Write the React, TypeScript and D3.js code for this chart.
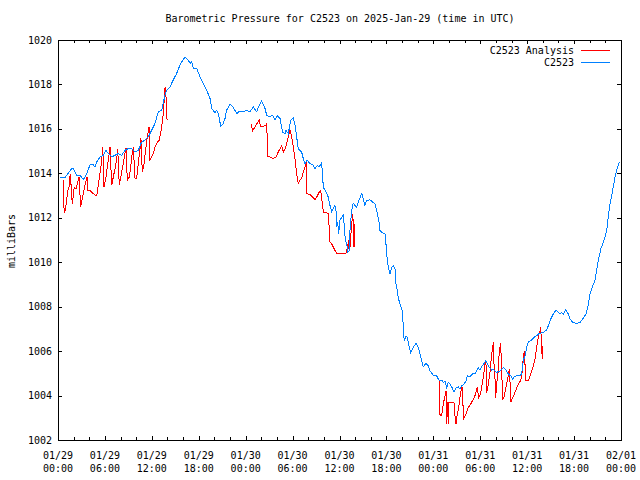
import React from "react";
import * as d3 from "d3";

const TITLE = "Barometric Pressure for C2523 on 2025-Jan-29 (time in UTC)";
const Y_LABEL = "milliBars";
const SERIES_NAMES = ["C2523 Analysis", "C2523"];
const SERIES_COLORS = ["#ff0000", "#0080ff"];
const START_UTC = Date.UTC(2025, 0, 29, 0, 0);
const SPAN_HOURS = 72;
const Y_DOMAIN = [1002, 1020];
const Y_TICKS = [1002, 1004, 1006, 1008, 1010, 1012, 1014, 1016, 1018, 1020];

// C2523 observations: hours after 2025-01-29 00:00 UTC, pressure (mb)
const blueHours = [0.26,0.90,1.75,1.96,2.39,2.81,3.24,3.45,3.67,4.09,4.51,4.73,4.95,5.37,5.79,6.14,6.43,6.87,7.29,7.71,8.15,8.57,8.99,9.42,9.85,10.27,10.70,11.13,11.55,11.98,12.40,12.83,13.26,13.68,13.90,14.32,14.74,15.18,15.60,16.02,16.28,16.66,16.88,17.10,17.30,17.74,18.16,18.58,19.02,19.44,19.66,20.08,20.29,20.50,20.81,21.14,21.36,21.57,22.00,22.42,22.85,23.27,23.70,24.13,24.55,24.97,25.41,25.74,26.05,26.47,26.69,27.11,27.46,27.75,28.04,28.39,28.73,29.03,29.16,29.45,29.76,30.09,30.31,30.52,30.73,31.16,31.37,31.59,31.88,32.23,32.65,32.86,33.16,33.41,33.72,33.93,34.27,34.57,34.78,35.00,35.21,35.42,35.55,35.64,35.77,35.90,36.06,36.28,36.48,36.61,36.74,36.92,37.05,37.25,37.34,37.56,37.76,37.98,38.20,38.40,38.84,39.04,39.26,39.48,39.90,40.24,40.54,40.76,41.05,41.18,41.39,41.82,41.94,42.11,42.29,42.46,42.67,42.88,43.10,43.22,43.39,43.52,43.82,44.08,44.16,44.28,44.50,44.67,44.92,45.10,45.44,45.78,46.07,46.29,46.51,46.71,47.06,47.35,47.57,47.99,48.43,48.76,49.07,49.27,49.49,49.71,49.91,50.13,50.35,50.64,50.90,51.19,51.41,51.62,51.92,52.17,52.34,52.69,53.03,53.32,53.54,53.75,53.96,54.18,54.48,54.73,55.03,55.24,55.46,55.67,56.10,56.52,56.95,57.29,57.59,57.89,58.15,58.31,58.66,59.08,59.30,59.50,59.72,59.94,60.14,60.58,60.87,61.22,61.55,62.06,62.49,62.70,62.92,63.34,63.68,63.98,64.19,64.41,64.62,64.92,65.26,65.47,65.82,66.33,66.75,67.18,67.52,67.81,68.03,68.38,68.67,69.05,69.44,69.82,70.17,70.37,70.59,70.81,71.01,71.23,71.44,71.78];
const bluePressure = [1013.82,1013.82,1014.21,1014.21,1013.91,1013.91,1013.73,1013.83,1013.99,1014.38,1014.38,1014.29,1014.51,1014.74,1014.81,1015.04,1014.89,1014.74,1014.81,1014.89,1014.81,1015.04,1015.11,1015.11,1014.96,1015.04,1015.41,1015.49,1015.64,1015.94,1016.24,1016.77,1016.84,1017.52,1017.74,1017.89,1018.20,1018.50,1018.87,1019.13,1019.22,1019.10,1018.95,1019.02,1018.72,1018.72,1018.34,1018.05,1017.74,1017.37,1016.92,1016.72,1016.84,1016.69,1016.12,1016.24,1016.47,1016.84,1017.11,1016.96,1016.69,1016.81,1016.77,1016.84,1016.77,1016.99,1016.77,1017.07,1017.25,1016.92,1016.62,1016.54,1016.62,1016.39,1016.60,1016.47,1015.86,1015.79,1015.94,1015.79,1016.39,1016.51,1016.17,1015.64,1015.11,1014.96,1014.66,1014.44,1014.59,1014.44,1014.36,1014.21,1014.36,1014.29,1014.47,1013.38,1013.16,1012.93,1012.56,1012.26,1012.41,1012.56,1012.33,1011.58,1011.80,1011.28,1011.88,1012.03,1012.11,1011.66,1010.98,1010.83,1010.45,1010.53,1011.43,1012.33,1012.66,1012.56,1012.48,1012.71,1013.09,1012.86,1012.56,1012.78,1012.81,1012.71,1012.63,1012.33,1011.80,1011.43,1011.35,1011.28,1010.83,1010.08,1009.70,1009.48,1009.78,1009.85,1009.70,1009.03,1008.72,1008.38,1008.05,1007.74,1006.92,1006.47,1006.69,1006.62,1006.17,1005.94,1006.17,1006.35,1006.17,1005.87,1005.57,1005.30,1005.44,1005.34,1005.11,1004.92,1004.89,1004.66,1004.69,1004.59,1004.66,1004.36,1004.59,1004.51,1004.39,1004.17,1004.33,1004.39,1004.29,1004.44,1004.51,1004.66,1004.89,1004.84,1004.99,1004.97,1005.11,1005.24,1005.15,1005.30,1005.44,1005.57,1005.34,1005.24,1005.15,1005.19,1005.04,1005.11,1005.26,1005.15,1004.97,1004.89,1004.74,1004.84,1004.89,1004.89,1004.97,1005.57,1005.79,1006.17,1006.42,1006.50,1006.62,1006.69,1006.80,1006.84,1006.95,1007.14,1007.37,1007.67,1007.85,1007.74,1007.67,1007.74,1007.67,1007.85,1007.67,1007.45,1007.29,1007.25,1007.29,1007.49,1007.67,1008.05,1008.57,1008.95,1009.17,1009.99,1010.62,1010.98,1011.43,1012.03,1012.63,1013.01,1013.38,1013.83,1014.14,1014.51];

// C2523 Analysis: hours after start, pressure (mb); null marks a gap
const redHours = [0.68,0.68,0.81,0.93,1.11,1.24,1.41,1.57,1.83,2.08,2.30,2.52,2.69,2.90,3.11,3.32,3.54,3.71,3.80,4.09,4.51,4.95,5.15,5.37,5.59,5.72,5.88,6.14,6.30,6.56,6.65,6.87,7.07,7.29,7.51,7.63,7.84,8.02,8.27,8.48,8.70,8.86,9.12,9.30,9.42,9.63,9.85,10.06,10.27,10.49,10.61,10.78,11.00,11.21,11.42,11.64,11.76,11.98,12.19,12.40,12.70,12.95,13.26,13.47,13.68,13.77,13.90,14.03,
  null,
  24.68,24.90,25.19,25.49,25.74,25.92,26.25,26.60,26.69,26.82,27.11,27.53,27.88,28.17,28.39,28.61,28.81,29.03,29.25,29.45,29.67,29.88,30.09,30.31,30.52,30.73,30.95,31.16,31.37,31.59,31.80,31.80,32.23,32.65,32.86,33.08,33.41,33.59,33.76,33.93,34.14,34.57,34.69,34.78,35.00,35.21,35.42,35.72,36.28,36.79,36.92,37.05,37.12,37.25,37.34,37.56,37.69,37.76,37.85,37.89,37.94,
  null,
  48.76,48.76,49.07,49.27,49.49,49.62,49.71,49.83,49.91,50.00,50.35,50.64,50.77,50.90,51.06,51.24,51.41,51.62,51.75,51.83,52.17,52.47,52.77,53.11,53.32,53.62,53.80,53.96,54.18,54.39,54.60,54.73,54.82,55.03,55.24,55.46,55.59,55.67,55.75,55.88,55.97,56.10,56.31,56.43,56.61,56.74,56.87,57.03,57.29,57.51,57.71,57.80,57.93,58.15,58.35,58.66,58.86,59.08,59.30,59.50,59.63,59.72,59.85,60.14,60.36,60.58,60.78,61.00,61.22,61.42,61.64,61.73,61.85,61.93,61.93];
const redPressure = [1013.69,1013.01,1012.21,1012.33,1012.78,1013.23,1013.38,1013.99,1012.63,1013.38,1013.31,1013.61,1013.83,1012.48,1012.86,1013.23,1013.61,1013.83,1013.23,1013.23,1013.09,1012.98,1013.46,1013.99,1014.59,1015.19,1013.38,1013.83,1014.29,1014.89,1015.19,1013.46,1013.83,1014.21,1014.66,1015.11,1013.46,1013.83,1014.29,1014.74,1015.16,1013.69,1013.83,1014.29,1014.74,1015.19,1013.76,1013.76,1014.44,1015.11,1015.57,1014.06,1014.44,1015.04,1015.64,1016.09,1014.62,1014.74,1014.89,1015.19,1015.41,1015.49,1016.09,1016.69,1017.82,1017.89,1016.47,1016.42,
  null,
  1016.24,1015.91,1016.09,1016.27,1016.39,1016.09,1016.12,1016.17,1016.27,1014.77,1014.74,1014.66,1014.74,1014.96,1015.11,1015.26,1014.96,1015.11,1015.34,1015.64,1015.94,1015.64,1015.19,1014.66,1013.99,1013.54,1013.69,1013.76,1014.06,1014.29,1014.56,1013.09,1013.05,1012.90,1012.81,1012.93,1013.16,1013.23,1012.78,1012.26,1012.26,1012.18,1011.51,1010.90,1010.83,1010.68,1010.53,1010.38,1010.38,1010.41,1010.45,1010.83,1010.60,1011.13,1010.68,1011.73,1012.18,1011.73,1010.68,1011.73,1010.68,
  null,
  1004.69,1003.16,1003.09,1003.61,1003.99,1004.21,1002.74,1003.69,1002.71,1003.69,1003.69,1003.69,1003.09,1002.74,1003.16,1003.46,1003.91,1004.36,1004.36,1002.94,1003.16,1003.46,1003.61,1003.84,1003.99,1004.36,1003.91,1003.99,1004.36,1004.81,1005.42,1005.49,1004.10,1004.51,1005.04,1005.87,1006.17,1006.39,1005.49,1004.81,1003.91,1004.51,1005.11,1006.00,1006.36,1005.11,1003.84,1003.91,1004.36,1004.74,1005.19,1004.66,1003.72,1003.91,1004.06,1004.33,1004.51,1004.63,1004.81,1005.71,1006.00,1005.42,1004.66,1004.66,1004.89,1005.11,1005.30,1005.64,1006.17,1006.62,1006.92,1007.07,1006.24,1005.64,1006.24];

const W = 640;
const H = 480;
const M = { left: 58, right: 621, top: 40, bottom: 440 };
const FONT = "'DejaVu Sans Mono', monospace";

type Pt = { t: Date; v: number } | null;

function toPoints(hours: (number | null)[], vals: (number | null)[]): Pt[] {
  return hours.map((h, i) =>
    h == null || vals[i] == null ? null : { t: new Date(START_UTC + h * 3600000), v: vals[i] as number }
  );
}

export default function App() {
  const x = d3
    .scaleUtc()
    .domain([new Date(START_UTC), new Date(START_UTC + SPAN_HOURS * 3600000)])
    .range([M.left, M.right]);
  const y = d3.scaleLinear().domain(Y_DOMAIN).range([M.bottom, M.top]);

  const line = d3
    .line<Pt>()
    .defined((d) => d != null)
    .x((d) => x((d as any).t))
    .y((d) => y((d as any).v));

  const blue = toPoints(blueHours, bluePressure);
  const red = toPoints(redHours, redPressure);

  const majorX = x.ticks(d3.utcHour.every(6) as any);
  const minorX = x.ticks(d3.utcHour.every(2) as any).filter((d) => d.getUTCHours() % 6 !== 0);
  const fmtDate = d3.utcFormat("%m/%d");
  const fmtTime = d3.utcFormat("%H:%M");

  const major = 4;
  const minor = 3;

  return (
    <svg width={W} height={H} style={{ display: "block", position: "absolute", left: 0, top: 0 }} fontFamily={FONT} fontSize={10}>
      <rect width={W} height={H} fill="#fff" />
      <text x={340} y={22} textAnchor="middle" fill="#000">{TITLE}</text>
      <text transform={`translate(15,241) rotate(-90)`} textAnchor="middle" fill="#000">{Y_LABEL}</text>

      <g shapeRendering="crispEdges" stroke="#000" strokeWidth={1}>
        {Y_TICKS.map((v) => (
          <g key={v}>
            <line x1={M.left} x2={M.left + major} y1={Math.round(y(v)) + 0.5} y2={Math.round(y(v)) + 0.5} />
            <line x1={M.right} x2={M.right - major} y1={Math.round(y(v)) + 0.5} y2={Math.round(y(v)) + 0.5} />
          </g>
        ))}
        {majorX.map((d, i) => (
          <g key={"M" + i}>
            <line x1={Math.round(x(d)) + 0.5} x2={Math.round(x(d)) + 0.5} y1={M.bottom} y2={M.bottom - major} />
            <line x1={Math.round(x(d)) + 0.5} x2={Math.round(x(d)) + 0.5} y1={M.top} y2={M.top + major} />
          </g>
        ))}
        {minorX.map((d, i) => (
          <g key={"m" + i}>
            <line x1={Math.round(x(d)) + 0.5} x2={Math.round(x(d)) + 0.5} y1={M.bottom} y2={M.bottom - minor} />
            <line x1={Math.round(x(d)) + 0.5} x2={Math.round(x(d)) + 0.5} y1={M.top} y2={M.top + minor} />
          </g>
        ))}
      </g>

      {Y_TICKS.map((v) => (
        <text key={"yl" + v} x={52} y={y(v) + 3.5} textAnchor="end" fill="#000">{v}</text>
      ))}
      {majorX.map((d, i) => (
        <g key={"xl" + i}>
          <text x={x(d)} y={459} textAnchor="middle" fill="#000">{fmtDate(d)}</text>
          <text x={x(d)} y={472} textAnchor="middle" fill="#000">{fmtTime(d)}</text>
        </g>
      ))}

      <path d={line(red) || ""} fill="none" stroke={SERIES_COLORS[0]} strokeWidth={1} shapeRendering="crispEdges" />
      <path d={line(blue) || ""} fill="none" stroke={SERIES_COLORS[1]} strokeWidth={1} shapeRendering="crispEdges" />

      {SERIES_NAMES.map((name, i) => (
        <g key={name}>
          <text x={574} y={50 + i * 12.5 + 3.5} textAnchor="end" fill="#000">{name}</text>
          <line x1={581} x2={610} y1={50 + i * 12.5} y2={50 + i * 12.5} stroke={SERIES_COLORS[i]} strokeWidth={1} shapeRendering="crispEdges" />
        </g>
      ))}

      <rect x={M.left + 0.5} y={M.top + 0.5} width={M.right - M.left} height={M.bottom - M.top} fill="none" stroke="#000" strokeWidth={1} shapeRendering="crispEdges" />
    </svg>
  );
}
